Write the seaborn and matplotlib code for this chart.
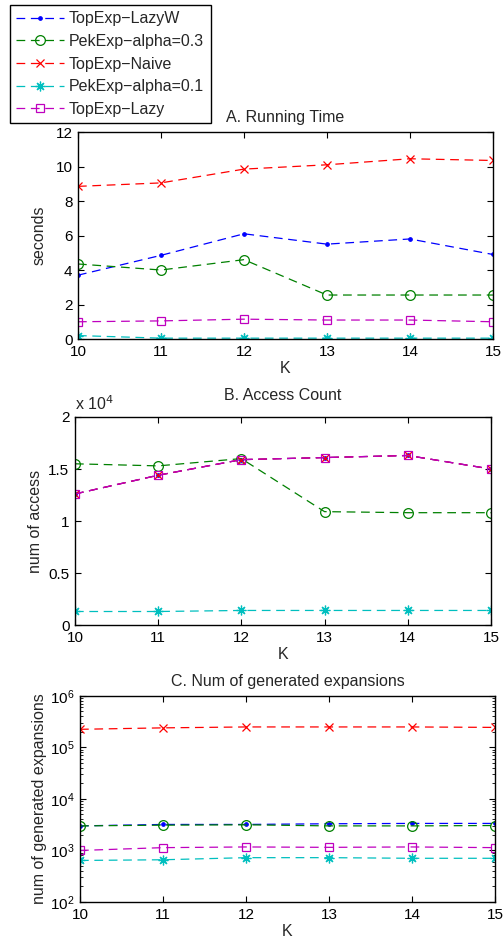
import numpy as np
import pandas as pd
import seaborn as sns
import matplotlib
matplotlib.use('Agg')
import matplotlib.pyplot as plt
from matplotlib.ticker import FuncFormatter, LogLocator, NullFormatter

K = [10, 11, 12, 13, 14, 15]
series = ['TopExp\u2212LazyW', 'PekExp\u2212alpha=0.3', 'TopExp\u2212Naive',
          'PekExp\u2212alpha=0.1', 'TopExp\u2212Lazy']

# A. running time (seconds)
time_lazyw = [3.7, 4.85, 6.1, 5.5, 5.8, 4.9]
time_pek03 = [4.35, 4.0, 4.6, 2.55, 2.55, 2.55]
time_naive = [8.85, 9.05, 9.85, 10.1, 10.45, 10.35]
time_pek01 = [0.2, 0.05, 0.05, 0.05, 0.05, 0.05]
time_lazy = [1.0, 1.05, 1.15, 1.1, 1.1, 1.0]

# B. access count
acc_lazyw = [12600, 14400, 15900, 16100, 16300, 15000]
acc_pek03 = [15500, 15300, 16000, 10900, 10800, 10800]
acc_naive = [12600, 14400, 15900, 16100, 16300, 15000]
acc_pek01 = [1300, 1300, 1400, 1400, 1400, 1400]
acc_lazy = [12600, 14400, 15900, 16100, 16300, 15000]

# C. generated expansions
exp_lazyw = [3000, 3200, 3200, 3300, 3350, 3350]
exp_pek03 = [3000, 3100, 3150, 3000, 3000, 3050]
exp_naive = [225000, 240000, 250000, 250000, 250000, 245000]
exp_pek01 = [640, 660, 725, 725, 705, 705]
exp_lazy = [1000, 1135, 1170, 1150, 1170, 1135]

sns.set_theme(style='white')
plt.rcParams['font.family'] = ['Liberation Sans', 'DejaVu Sans']
plt.rcParams['font.size'] = 11.5
plt.rcParams['xtick.direction'] = 'in'
plt.rcParams['ytick.direction'] = 'in'

colors = ['blue', (0, 0.5, 0), 'red', (0, 0.75, 0.75), (0.75, 0, 0.75)]
markers = ['.', 'o', 'x', (8, 2, 0), 's']
msizes = [5, 7, 6, 7, 6]
filled = [True, False, False, False, False]
dash = (0, (7, 4.5))

fig = plt.figure(figsize=(5.03, 9.43), dpi=100)
axA = fig.add_axes([0.155, 0.6405, 0.825, 0.2195])
axB = fig.add_axes([0.149, 0.3372, 0.827, 0.2206])
axC = fig.add_axes([0.159, 0.0435, 0.825, 0.2185])

panels = [
    (axA, [time_lazyw, time_pek03, time_naive, time_pek01, time_lazy]),
    (axB, [acc_lazyw, acc_pek03, acc_naive, acc_pek01, acc_lazy]),
    (axC, [exp_lazyw, exp_pek03, exp_naive, exp_pek01, exp_lazy]),
]

for ax, vals in panels:
    for name, v, c, m, ms, f in zip(series, vals, colors, markers, msizes, filled):
        df = pd.DataFrame({'K': K, 'v': v})
        sns.lineplot(data=df, x='K', y='v', ax=ax, color=c, marker=m,
                     markersize=ms, markerfacecolor=c if f else 'none',
                     markeredgecolor=c, markeredgewidth=0.9, linestyle=dash,
                     linewidth=0.9, label=name, legend=False)
    ax.set_xlim(10, 15)
    ax.set_xticks(K)
    ax.set_xlabel('K', fontsize=11.5, labelpad=2)
    for s in ax.spines.values():
        s.set_color('black')
        s.set_linewidth(1.0)
    ax.tick_params(top=True, right=True, left=True, bottom=True, length=4,
                   width=0.8, colors='black', labelsize=11, pad=4)

axA.set_ylim(0, 12)
axA.set_yticks([0, 2, 4, 6, 8, 10, 12])
axA.set_ylabel('seconds', fontsize=11.5, labelpad=6)
axA.set_title('A. Running Time', fontsize=11.5, pad=7)

axB.set_ylim(0, 20000)
axB.set_yticks([0, 5000, 10000, 15000, 20000])
axB.yaxis.set_major_formatter(FuncFormatter(lambda y, p: '%g' % (y / 1e4)))
axB.set_ylabel('num of access', fontsize=11.5, labelpad=4)
axB.set_title('B. Access Count', fontsize=11.5, pad=12)
axB.text(0.0, 1.02, 'x 10$^{4}$', transform=axB.transAxes, fontsize=11.5,
         ha='left', va='bottom')

axC.set_yscale('log')
axC.set_ylim(1e2, 1e6)
axC.yaxis.set_major_locator(LogLocator(base=10, numticks=10))
axC.yaxis.set_minor_locator(LogLocator(base=10, subs=np.arange(2, 10), numticks=50))
axC.yaxis.set_minor_formatter(NullFormatter())
axC.tick_params(which='minor', direction='in', left=True, right=True,
                length=2, width=0.6, colors='black')
axC.set_ylabel('num of generated expansions', fontsize=11.5, labelpad=2)
axC.set_title('C. Num of generated expansions', fontsize=11.5, pad=7)

handles, labels = axA.get_legend_handles_labels()
fig.legend(handles, labels, loc='upper left', bbox_to_anchor=(10 / 503, 1 - 5 / 943),
           borderaxespad=0, handlelength=3.0, handletextpad=0.3, borderpad=0.4,
           labelspacing=0.48, fancybox=False, edgecolor='black', framealpha=1,
           fontsize=11.5, numpoints=1)

fig.savefig('out.png', dpi=100)
